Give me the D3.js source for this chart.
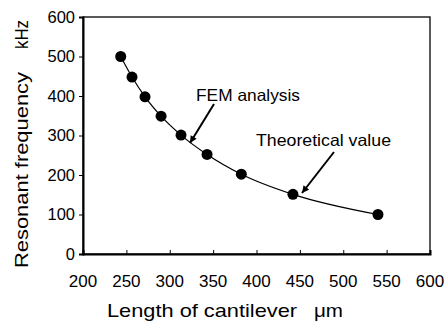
<!DOCTYPE html>
<html>
<head>
<meta charset="utf-8">
<script src="https://cdn.jsdelivr.net/npm/d3@7"></script>
<style>
  body { margin: 0; background: #fff; }
  text { font-family: "Liberation Sans", Arial, sans-serif; fill: #000; }
</style>
</head>
<body>
<script>
const width = 448;
const height = 323;

// cantilever length (um) and resonant frequency (kHz)
const lengths = [243.5, 256.5, 271.5, 290, 313, 343, 382.5, 442, 540];
const freqs = [500, 448, 398, 349, 301, 252, 202, 151, 100];
const xTicks = [200, 250, 300, 350, 400, 450, 500, 550, 600];
const yTicks = [0, 100, 200, 300, 400, 500, 600];

const margin = { left: 83, top: 17, right: 18, bottom: 69 };

const svg = d3
  .select("body")
  .append("svg")
  .attr("width", width)
  .attr("height", height);

const x = d3.scaleLinear().domain([200, 600]).range([margin.left, width - margin.right]);
const y = d3.scaleLinear().domain([0, 600]).range([height - margin.bottom, margin.top]);

// plot frame
svg
  .append("rect")
  .attr("x", x(200))
  .attr("y", y(600))
  .attr("width", x(600) - x(200))
  .attr("height", y(0) - y(600))
  .attr("fill", "none")
  .attr("stroke", "#000")
  .attr("stroke-width", 1.3);

// x axis: ticks point inward
const xAxis = svg
  .append("g")
  .attr("transform", `translate(0,${y(0)})`)
  .call(d3.axisTop(x).tickValues(xTicks).tickSize(4).tickFormat(""));
xAxis.select(".domain").attr("stroke-width", 2);
svg
  .append("g")
  .selectAll("text")
  .data(xTicks)
  .enter()
  .append("text")
  .attr("x", (d) => x(d))
  .attr("y", 287)
  .attr("text-anchor", "middle")
  .style("font-size", "17px")
  .text((d) => d);

// y axis: small ticks outward
const yAxis = svg
  .append("g")
  .attr("transform", `translate(${x(200)},0)`)
  .call(d3.axisLeft(y).tickValues(yTicks).tickSize(4).tickPadding(4));
yAxis.select(".domain").attr("stroke-width", 2);
yAxis
  .selectAll("text")
  .style("font-size", "16.5px")
  .style("font-family", '"Liberation Sans", Arial, sans-serif');

// theoretical curve
const line = d3
  .line()
  .x((d) => x(d[0]))
  .y((d) => y(d[1]))
  .curve(d3.curveMonotoneX);
const pts = lengths.map((l, i) => [l, freqs[i]]);
svg
  .append("path")
  .attr("d", line(pts))
  .attr("fill", "none")
  .attr("stroke", "#000")
  .attr("stroke-width", 1.2);

// FEM points
svg
  .selectAll("circle")
  .data(pts)
  .enter()
  .append("circle")
  .attr("cx", (d) => x(d[0]))
  .attr("cy", (d) => y(d[1]))
  .attr("r", 5.5)
  .attr("fill", "#000");

// annotations
svg
  .append("defs")
  .append("marker")
  .attr("id", "head")
  .attr("viewBox", "0 0 10 10")
  .attr("refX", 10)
  .attr("refY", 5)
  .attr("markerWidth", 9)
  .attr("markerHeight", 7)
  .attr("markerUnits", "userSpaceOnUse")
  .attr("orient", "auto")
  .append("path")
  .attr("d", "M0,0L10,5L0,10Z")
  .attr("fill", "#000");

const notes = [
  { label: "FEM analysis", tx: 196, ty: 101, len: 104, from: [214, 104], to: [190, 143] },
  { label: "Theoretical value", tx: 256, ty: 146, len: 135, from: [334, 152], to: [302, 193] },
];
notes.forEach((n) => {
  svg
    .append("text")
    .attr("x", n.tx)
    .attr("y", n.ty)
    .attr("textLength", n.len)
    .attr("lengthAdjust", "spacingAndGlyphs")
    .style("font-size", "16.5px")
    .text(n.label);
  svg
    .append("line")
    .attr("x1", n.from[0])
    .attr("y1", n.from[1])
    .attr("x2", n.to[0])
    .attr("y2", n.to[1])
    .attr("stroke", "#000")
    .attr("stroke-width", 2)
    .attr("marker-end", "url(#head)");
});

// axis titles
function title(tr, label, len) {
  svg
    .append("text")
    .attr("transform", tr)
    .attr("textLength", len)
    .attr("lengthAdjust", "spacingAndGlyphs")
    .style("font-size", "18.5px")
    .text(label);
}
title("translate(107,317)", "Length of cantilever", 190);
title("translate(314,317)", "\u03bcm", 29);
title("translate(28,268) rotate(-90)", "Resonant frequency", 196);
title("translate(28,49) rotate(-90)", "kHz", 29);
</script>
</body>
</html>
